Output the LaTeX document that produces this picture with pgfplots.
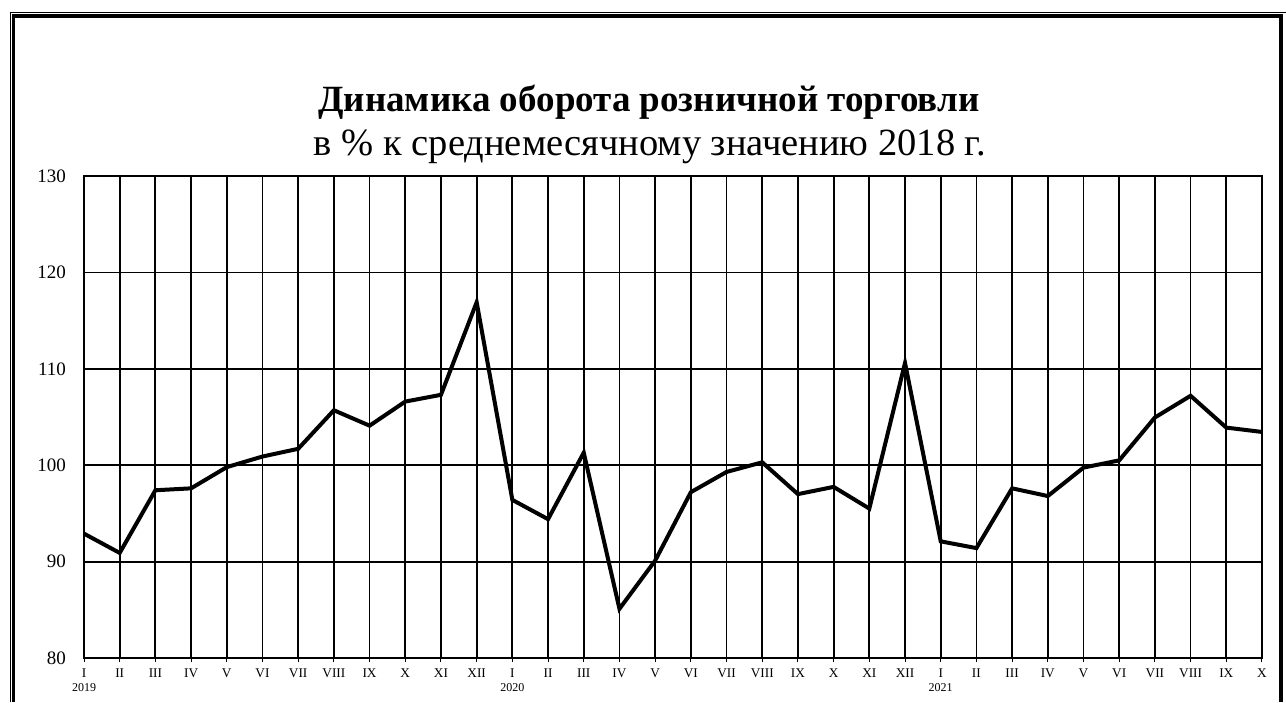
\documentclass[border=0pt]{standalone}
\usepackage{pgfplots}
\pgfplotsset{compat=1.18}
\usepackage{fontspec}
\setmainfont{Liberation Serif}
\begin{document}
\begin{tikzpicture}[x=1pt,y=1pt]
\useasboundingbox (0,0) rectangle (1286,702);
% frame
\draw[line width=1pt] (10,0) -- (10,689) -- (1286,689);
\draw[line width=3.5pt] (13.5,0) -- (13.5,686) -- (1281,686) -- (1281,0);
% titles
\node[anchor=base, inner sep=0pt] at (649,590) {\fontsize{37}{37}\selectfont\bfseries Динамика оборота розничной торговли};
\node[anchor=base, inner sep=0pt] at (650,546) {\fontsize{38.5}{38.5}\selectfont в \% к среднемесячному значению 2018 г.};
\begin{axis}[
  at={(84pt,44pt)}, anchor=south west, scale only axis,
  width=1178pt, height=482pt,
  xmin=0, xmax=33, ymin=80, ymax=130,
  ytick={80,90,100,110,120,130},
  xtick={0,...,33},
  xticklabels={{I\\{\fontsize{12}{12}\selectfont 2019}},II,III,IV,V,VI,VII,VIII,IX,X,XI,XII,
    {I\\{\fontsize{12}{12}\selectfont 2020}},II,III,IV,V,VI,VII,VIII,IX,X,XI,XII,
    {I\\{\fontsize{12}{12}\selectfont 2021}},II,III,IV,V,VI,VII,VIII,IX,X},
  grid=major,
  major grid style={black, line width=1.8pt},
  axis line style={black, line width=1.8pt},
  xtick pos=bottom, ytick pos=left,
  tick align=outside,
  major tick length=4pt,
  xtick style={black, line width=1pt},
  ytick style={draw=none},
  xticklabel style={anchor=north, inner sep=0pt, align=center, font=\fontsize{13.3}{14}\selectfont},
  xticklabel shift=7pt,
  yticklabel style={anchor=east, inner sep=0pt, font=\fontsize{19}{19}\selectfont},
  yticklabel shift=14pt,
  /pgf/number format/assume math mode=true,
]
\addplot[black, line width=4pt, mark=none, line join=miter] coordinates {
(0,92.9) (1,90.9) (2,97.4) (3,97.6) (4,99.8) (5,100.9) (6,101.7) (7,105.7) (8,104.1) (9,106.6) (10,107.3) (11,116.9)
(12,96.4) (13,94.4) (14,101.3) (15,85.1) (16,90.1) (17,97.2) (18,99.3) (19,100.3) (20,97.0) (21,97.75) (22,95.5) (23,110.6)
(24,92.1) (25,91.4) (26,97.6) (27,96.8) (28,99.75) (29,100.5) (30,104.95) (31,107.2) (32,103.9) (33,103.45)
};
\end{axis}
\end{tikzpicture}
\end{document}
